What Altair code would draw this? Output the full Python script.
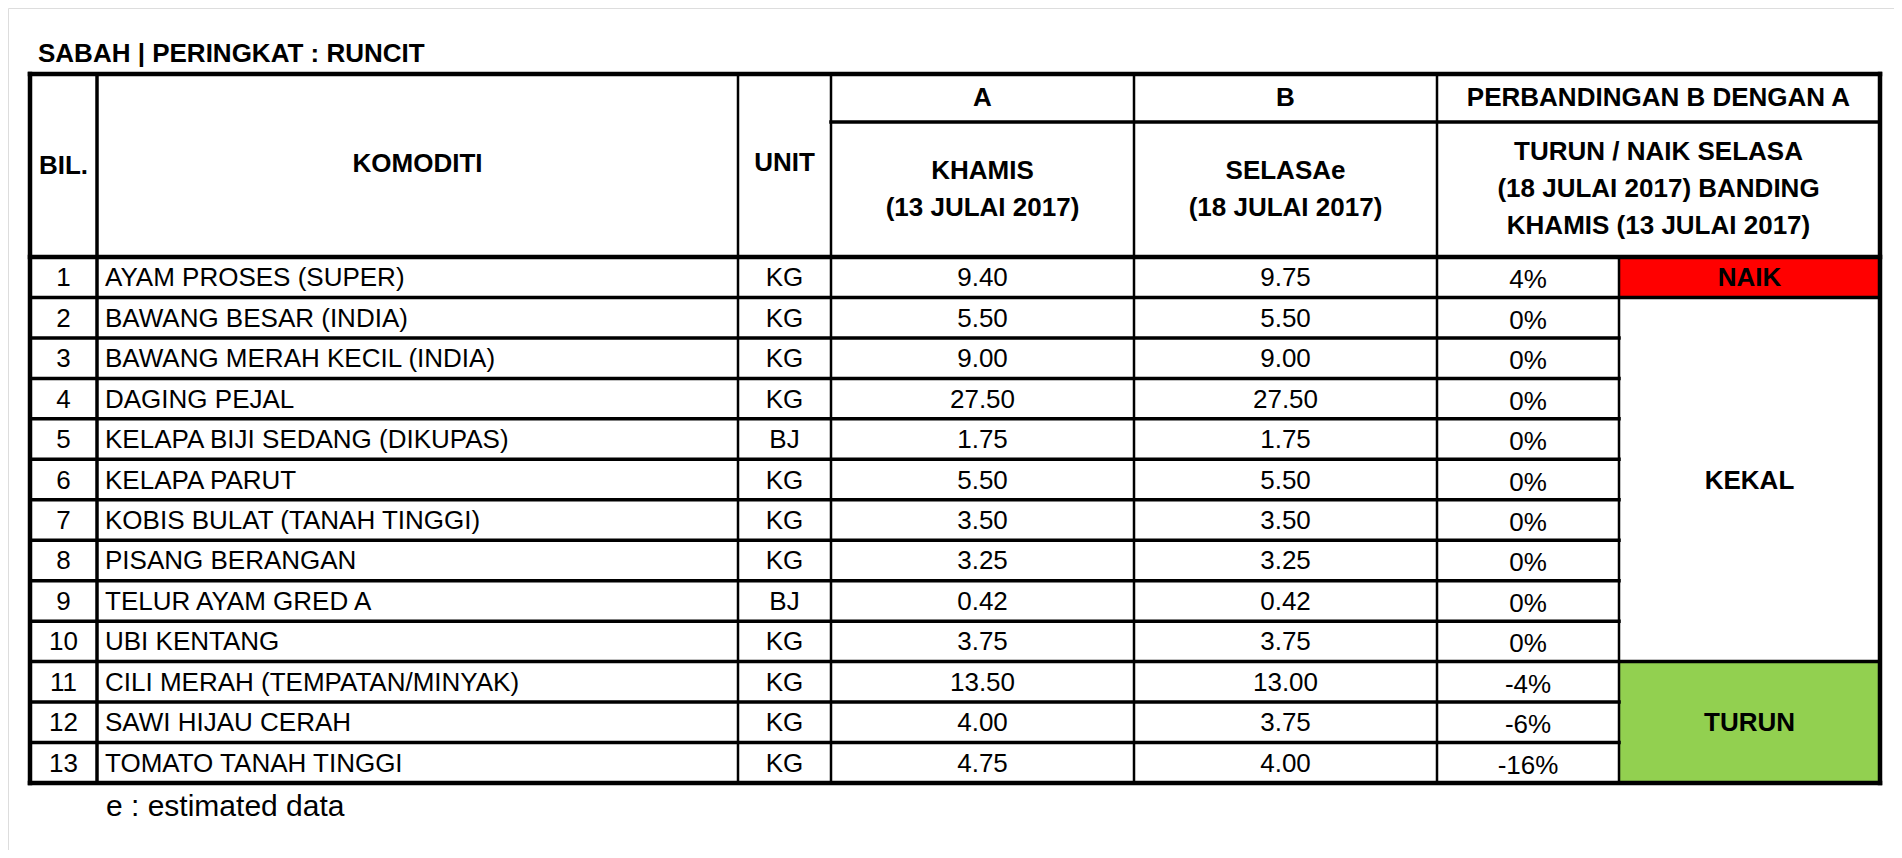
import altair as alt
import pandas as pd

# ---------------- data ----------------
bil = list(range(1, 14))
komoditi = [
    "AYAM PROSES (SUPER)",
    "BAWANG BESAR (INDIA)",
    "BAWANG MERAH KECIL (INDIA)",
    "DAGING PEJAL",
    "KELAPA BIJI SEDANG (DIKUPAS)",
    "KELAPA PARUT",
    "KOBIS BULAT (TANAH TINGGI)",
    "PISANG BERANGAN",
    "TELUR AYAM GRED A",
    "UBI KENTANG",
    "CILI MERAH (TEMPATAN/MINYAK)",
    "SAWI HIJAU CERAH",
    "TOMATO TANAH TINGGI",
]
unit = ["KG", "KG", "KG", "KG", "BJ", "KG", "KG", "KG", "BJ", "KG", "KG", "KG", "KG"]
harga_a = [9.40, 5.50, 9.00, 27.50, 1.75, 5.50, 3.50, 3.25, 0.42, 3.75, 13.50, 4.00, 4.75]
harga_b = [9.75, 5.50, 9.00, 27.50, 1.75, 5.50, 3.50, 3.25, 0.42, 3.75, 13.00, 3.75, 4.00]
peratus = [4, 0, 0, 0, 0, 0, 0, 0, 0, 0, -4, -6, -16]
status_label = ["NAIK", "KEKAL", "TURUN"]
status_first = [1, 2, 11]
status_last = [1, 10, 13]
status_fill = ["#FF0000", "#FFFFFF", "#92D050"]

title_text = "SABAH | PERINGKAT : RUNCIT"
footnote = "e : estimated data"

# ---------------- layout (pixels of the page) ----------------
FONT = "Liberation Sans, Arial, sans-serif"
XE = [30, 97, 738, 831, 1134, 1437, 1619, 1880]   # column edges
Y_TOP, Y_MID, Y_HEAD = 74, 122, 257
Y_BOT = 783
N = len(bil)
RH = (Y_BOT - Y_HEAD) / N


def row_top(i):
    return Y_HEAD + i * RH


def cx(c):
    return (XE[c] + XE[c + 1]) / 2


W, H = 1886, 842
xs = alt.Scale(domain=[8, 8 + W], nice=False, zero=False)
ys = alt.Scale(domain=[8, 8 + H], nice=False, zero=False, reverse=True)

# ---------------- fills ----------------
fills = pd.DataFrame({
    "x": [XE[6]] * 3,
    "x2": [XE[7]] * 3,
    "y": [row_top(f - 1) for f in status_first],
    "y2": [row_top(l) for l in status_last],
    "c": status_fill,
})
fill_layer = alt.Chart(fills).mark_rect().encode(
    x=alt.X("x:Q", scale=xs, axis=None),
    x2="x2:Q",
    y=alt.Y("y:Q", scale=ys, axis=None),
    y2="y2:Q",
    color=alt.Color("c:N", scale=None),
)

# ---------------- lines ----------------
segs = []
OUT, INV, HOR = 4.5, 2.5, 3.5
segs.append((XE[0], XE[0], Y_TOP, Y_BOT, OUT))
segs.append((XE[7], XE[7], Y_TOP, Y_BOT, OUT))
for c in [1, 2, 3, 4, 5]:
    segs.append((XE[c], XE[c], Y_TOP, Y_BOT, INV if c > 1 else 3.5))
segs.append((XE[6], XE[6], Y_HEAD, Y_BOT, INV))
segs.append((XE[0], XE[7], Y_TOP, Y_TOP, OUT))
segs.append((XE[3], XE[7], Y_MID, Y_MID, HOR))
segs.append((XE[0], XE[7], Y_HEAD, Y_HEAD, OUT))
segs.append((XE[0], XE[7], Y_BOT, Y_BOT, OUT))
breaks = set(status_last[:-1])
for i in range(1, N):
    y = row_top(i)
    xend = XE[7] if i in breaks else XE[6]
    segs.append((XE[0], xend, y, y, HOR))
lines = pd.DataFrame(segs, columns=["x", "x2", "y", "y2", "w"])
line_layer = alt.Chart(lines).mark_rule(color="#000000", strokeCap="square").encode(
    x=alt.X("x:Q", scale=xs, axis=None),
    x2="x2:Q",
    y=alt.Y("y:Q", scale=ys, axis=None),
    y2="y2:Q",
    strokeWidth=alt.StrokeWidth("w:Q", scale=None),
)

# ---------------- texts ----------------
def text_layer(df, size, weight="normal", align="center"):
    return alt.Chart(df).mark_text(
        font=FONT, fontSize=size, fontWeight=weight, align=align,
        baseline="middle", color="#000000",
    ).encode(
        x=alt.X("x:Q", scale=xs, axis=None),
        y=alt.Y("y:Q", scale=ys, axis=None),
        text="t:N",
    )

title_df = pd.DataFrame({"x": [38], "y": [54], "t": [title_text]})
foot_df = pd.DataFrame({"x": [106], "y": [807], "t": [footnote]})

hx, hy, ht = [], [], []
def h(x, y, t):
    hx.append(x); hy.append(y); ht.append(t)

hmid = (Y_TOP + Y_HEAD) / 2
CD = (XE[5] + XE[7]) / 2
h(cx(0), hmid, "BIL.")
h(cx(1), hmid - 2, "KOMODITI")
h(cx(2), hmid - 3, "UNIT")
h(cx(3), (Y_TOP + Y_MID) / 2, "A")
h(cx(4), (Y_TOP + Y_MID) / 2, "B")
h(CD, (Y_TOP + Y_MID) / 2, "PERBANDINGAN B DENGAN A")
h(cx(3), 171, "KHAMIS")
h(cx(3), 208, "(13 JULAI 2017)")
h(cx(4), 171, "SELASAe")
h(cx(4), 208, "(18 JULAI 2017)")
h(CD, 152, "TURUN / NAIK SELASA")
h(CD, 189, "(18 JULAI 2017) BANDING")
h(CD, 226, "KHAMIS (13 JULAI 2017)")
head_df = pd.DataFrame({"x": hx, "y": hy, "t": ht})

rc = [row_top(i) + RH / 2 + 1 for i in range(N)]
body_c = pd.DataFrame({
    "x": [cx(0)] * N + [cx(2)] * N + [cx(3)] * N + [cx(4)] * N,
    "y": rc * 4,
    "t": [str(b) for b in bil] + unit
         + [f"{v:.2f}" for v in harga_a] + [f"{v:.2f}" for v in harga_b],
})
pct_df = pd.DataFrame({"x": [cx(5)] * N, "y": [r + 2 for r in rc],
                       "t": [f"{p}%" for p in peratus]})
body_l = pd.DataFrame({"x": [XE[1] + 8] * N, "y": rc, "t": komoditi})
stat_df = pd.DataFrame({
    "x": [cx(6)] * 3,
    "y": [(row_top(f - 1) + row_top(l)) / 2 + 1 for f, l in zip(status_first, status_last)],
    "t": status_label,
})

chart = alt.layer(
    fill_layer,
    line_layer,
    text_layer(title_df, 26, "bold", "left"),
    text_layer(head_df, 26, "bold"),
    text_layer(body_c, 26),
    text_layer(pct_df, 26),
    text_layer(body_l, 26, "normal", "left"),
    text_layer(stat_df, 26, "bold"),
    text_layer(foot_df, 30, "normal", "left"),
).properties(
    width=W, height=H, padding=0, autosize=alt.AutoSizeParams(type="none"),
).configure_view(stroke=None).configure(background="#FFFFFF")

chart.save("out.html", embed_options={"renderer": "svg", "actions": False})
